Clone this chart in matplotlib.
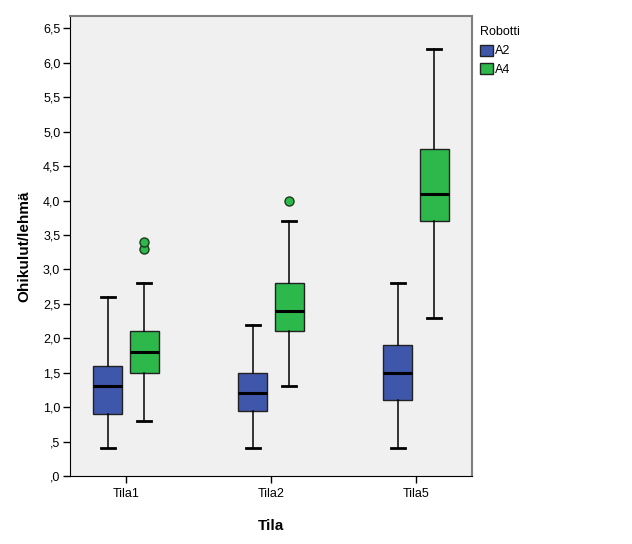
import matplotlib
matplotlib.use("Agg")
import matplotlib.pyplot as plt
from matplotlib.patches import Patch

plt.rcParams["font.family"] = ["Liberation Sans", "DejaVu Sans"]

# data
tilat = ["Tila1", "Tila2", "Tila5"]
robotit = ["A2", "A4"]

a2_low = [0.4, 0.4, 0.4]
a2_q1 = [0.9, 0.95, 1.1]
a2_med = [1.3, 1.2, 1.5]
a2_q3 = [1.6, 1.5, 1.9]
a2_high = [2.6, 2.2, 2.8]
a2_out = [[], [], []]

a4_low = [0.8, 1.3, 2.3]
a4_q1 = [1.5, 2.1, 3.7]
a4_med = [1.8, 2.4, 4.1]
a4_q3 = [2.1, 2.8, 4.75]
a4_high = [2.8, 3.7, 6.2]
a4_out = [[3.3, 3.4], [4.0], []]

colors = {"A2": "#3F57AB", "A4": "#2DB84B"}

fig = plt.figure(figsize=(6.32, 5.44), dpi=100)
ax = fig.add_axes([0.1108, 0.125, 0.636, 0.8456])
ax.set_facecolor("#F0F0F0")

def stats(low, q1, med, q3, high, out):
    res = []
    for i in range(len(low)):
        res.append({"whislo": low[i], "q1": q1[i], "med": med[i], "q3": q3[i],
                    "whishi": high[i], "fliers": out[i]})
    return res

series = [
    ("A2", stats(a2_low, a2_q1, a2_med, a2_q3, a2_high, a2_out), -0.125),
    ("A4", stats(a4_low, a4_q1, a4_med, a4_q3, a4_high, a4_out), 0.125),
]

for name, st, off in series:
    pos = [i + off for i in range(len(tilat))]
    ax.bxp(st, positions=pos, widths=0.2, capwidths=0.1, patch_artist=True,
           showfliers=True,
           boxprops=dict(facecolor=colors[name], edgecolor="#222222", linewidth=1),
           medianprops=dict(color="black", linewidth=2.2),
           whiskerprops=dict(color="black", linewidth=1.1),
           capprops=dict(color="black", linewidth=2),
           flierprops=dict(marker="o", markerfacecolor=colors[name],
                           markeredgecolor="#1a3a1a", markersize=6.5,
                           linestyle="none"))

ax.set_xlim(-0.386, 2.386)
ax.set_ylim(0, 6.68)
ax.set_xticks(range(len(tilat)))
ax.set_xticklabels(tilat)
yt = [i * 0.5 for i in range(14)]
ax.set_yticks(yt)
ylab = []
for v in yt:
    s = "%.1f" % v
    s = s.replace(".", ",")
    if s.startswith("0"):
        s = s[1:]
    ylab.append(s)
ax.set_yticklabels(ylab)
ax.tick_params(axis="both", direction="out", length=5, width=1, labelsize=9, colors="black")
ax.tick_params(axis="y", pad=2)

for side in ["left", "bottom"]:
    ax.spines[side].set_color("black")
for side in ["top", "right"]:
    ax.spines[side].set_color("#7f7f7f")
    ax.spines[side].set_linewidth(1.5)

ax.set_ylabel("Ohikulut/lehmä", fontsize=11, fontweight="bold", labelpad=8)
ax.set_xlabel("Tila", fontsize=11, fontweight="bold", labelpad=14)

handles = [Patch(facecolor=colors[r], edgecolor="#222222", label=r) for r in robotit]
leg = fig.legend(handles=handles, title="Robotti", loc="upper left",
                 bbox_to_anchor=(0.752, 0.962), frameon=False, fontsize=9,
                 title_fontsize=9, handlelength=1.0, handleheight=1.0,
                 handletextpad=0.2, labelspacing=0.45, borderaxespad=0)
leg._legend_box.align = "left"
leg._legend_box.sep = 5

fig.savefig("out.png", dpi=100, facecolor="white")
